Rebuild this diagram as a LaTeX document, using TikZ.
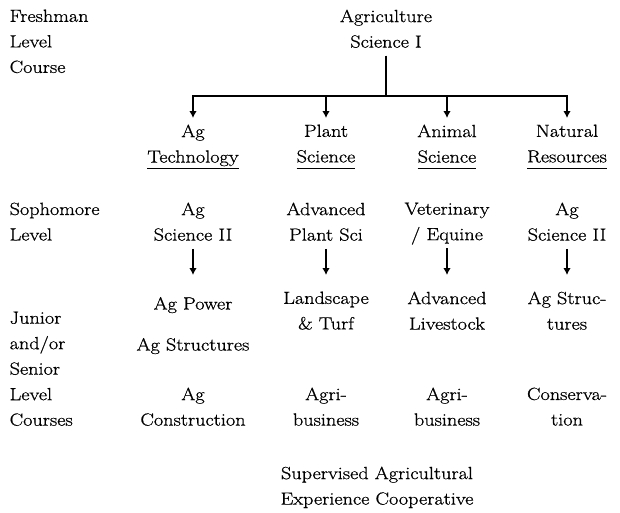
\documentclass[tikz,border=0pt]{standalone}
\usepackage{fontspec}
\setmainfont{Latin Modern Roman}[FakeStretch=1.15, FakeBold=0.8]
\usetikzlibrary{arrows.meta}
\newcommand\uln[1]{\setbox0\hbox{#1}\rlap{\rule[-6.4pt]{\wd0}{1.2pt}}\box0}

\begin{document}
\begin{tikzpicture}[x=1pt, y=-1pt, line width=1.3pt, >={Latex[length=7pt,width=7.5pt]}]
\tikzstyle{every node} = [inner sep=0pt, anchor=north, align=center, font=\fontsize{17.6}{25.5}\selectfont, execute at begin node=\strut, execute at end node=\strut]
\tikzstyle{side} = [anchor=north west, align=left]
\useasboundingbox (0,0) rectangle (620,512);

\node[side] (fresh) at (9, 9) {Freshman\\Level\\Course};
\node[side] (soph) at (9, 202) {Sophomore\\Level};
\node[side] (junior) at (9, 311) {Junior\\and/or\\Senior\\Level\\Courses};

\node (ag1) at (386, 9) {Agriculture\\Science I};

\node (tech) at (193, 124) {Ag\\\uln{Technology}};
\node (plant) at (326, 124) {Plant\\\uln{Science}};
\node (animal) at (447, 124) {Animal\\\uln{Science}};
\node (natres) at (567, 124) {Natural\\\uln{Resources}};

\node (sci2a) at (193, 202) {Ag\\Science II};
\node (advplant) at (326, 202) {Advanced\\Plant Sci};
\node (vet) at (447, 202) {Veterinary\\/ Equine};
\node (sci2b) at (567, 202) {Ag\\Science II};

\node (power) at (193, 291) {Ag Power};
\node (agstruct) at (193, 332) {Ag Structures};
\node (landscape) at (326, 291) {Landscape\\\& Turf};
\node (advlive) at (447, 291) {Advanced\\Livestock};
\node (struc) at (567, 291) {Ag Struc-\\tures};

\node (constr) at (193, 387) {Ag\\Construction};
\node (agbus1) at (326, 387) {Agri-\\business};
\node (agbus2) at (447, 387) {Agri-\\business};
\node (conserv) at (567, 387) {Conserva-\\tion};

\node (sae) at (377, 466) {Supervised Agricultural\\Experience Cooperative};

\coordinate (bar) at (386, 96);
\foreach \c in {tech,plant,animal,natres}
\draw [->, shorten >=6pt] (ag1.south) |- (bar -| \c) -- (\c.north);

%\draw [->] (sci2a) -- (power);
\foreach \from/\to in {sci2a/power, advplant/landscape, vet/advlive, sci2b/struc}
\draw [->, shorten >=16pt] (\from) -- (\to);
\end{tikzpicture}
\end{document}
